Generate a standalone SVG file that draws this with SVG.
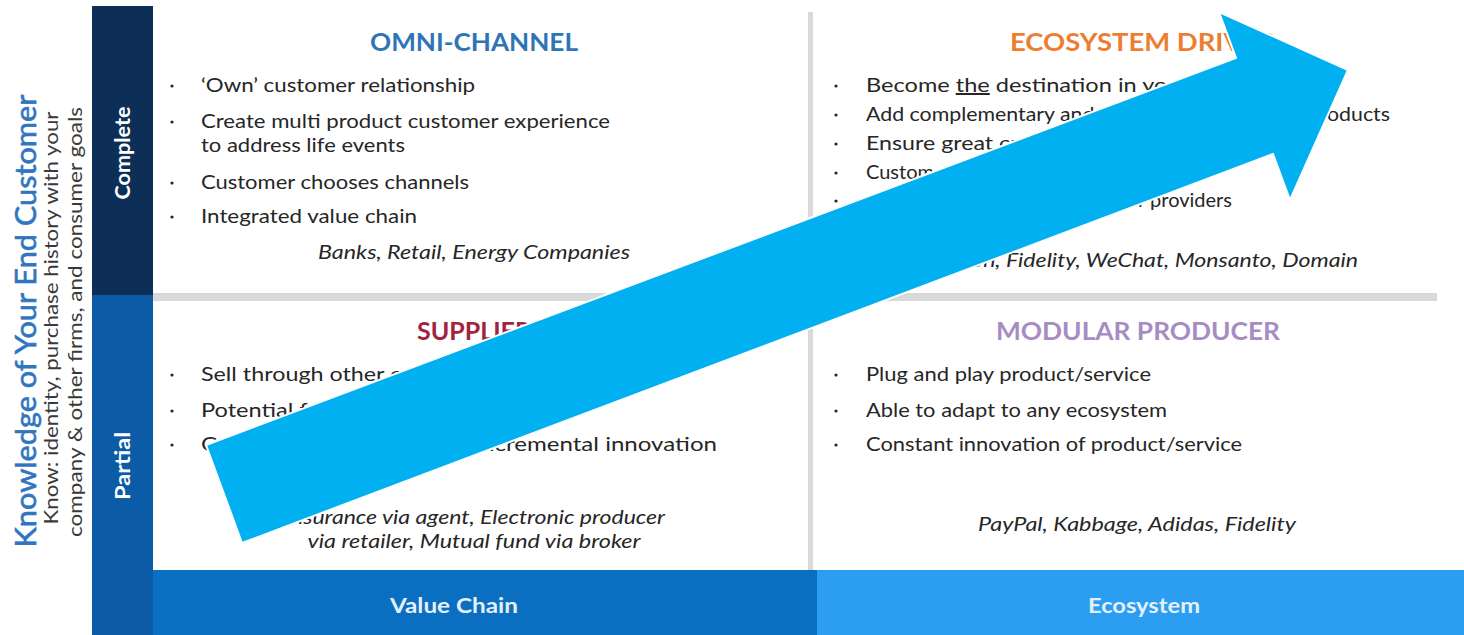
<svg xmlns="http://www.w3.org/2000/svg" width="1464" height="635" viewBox="0 0 1464 635">
  <style>
    text { font-family: Lato, "Open Sans", "Liberation Sans", sans-serif; }
    .body { font-size: 20px; fill: #262626; }
    .ex { font-size: 20px; fill: #262626; font-style: italic; }
    .title { font-size: 25px; font-weight: bold; text-anchor: middle; }
    .axis { font-size: 20px; font-weight: bold; fill: #ffffff; text-anchor: middle; }
    .foot { font-size: 20px; font-weight: bold; fill: #e4f0fb; text-anchor: middle; }
    .dot { fill: #262626; }
    .rule { fill: #d9d9d9; }
  </style>
  <defs>
    <circle id="bullet" r="1.6" class="dot"/>
  </defs>

  <rect width="1464" height="635" fill="#ffffff"/>

  <!-- vertical axis caption -->
  <g id="y-axis-caption">
    <text transform="translate(36,321) rotate(-90)" text-anchor="middle" font-size="28" fill="#2f75c0" stroke="#2f75c0" stroke-width="0.6" textLength="453" lengthAdjust="spacingAndGlyphs">Knowledge of Your End Customer</text>
    <text transform="translate(58,318) rotate(-90)" text-anchor="middle" font-size="19" fill="#3a3a3a" textLength="413" lengthAdjust="spacingAndGlyphs">Know: identity, purchase history with your</text>
    <text transform="translate(82,322) rotate(-90)" text-anchor="middle" font-size="19" fill="#3a3a3a" textLength="430" lengthAdjust="spacingAndGlyphs">company &amp; other firms, and consumer goals</text>
  </g>

  <!-- row labels -->
  <g id="row-complete">
    <rect x="92" y="6" width="61" height="289" fill="#0d2f57"/>
    <text class="axis" transform="translate(130,153) rotate(-90)" textLength="93" lengthAdjust="spacingAndGlyphs">Complete</text>
  </g>
  <g id="row-partial">
    <rect x="92" y="295" width="61" height="340" fill="#0b5ba6"/>
    <text class="axis" transform="translate(130,466) rotate(-90)" textLength="68" lengthAdjust="spacingAndGlyphs">Partial</text>
  </g>

  <!-- column labels -->
  <g id="col-value-chain">
    <rect x="153" y="570" width="664" height="65" fill="#0b6fc1"/>
    <text class="foot" x="454" y="613" textLength="128" lengthAdjust="spacingAndGlyphs">Value Chain</text>
  </g>
  <g id="col-ecosystem">
    <rect x="817" y="570" width="647" height="65" fill="#2b9ef2"/>
    <text class="foot" x="1144" y="613" textLength="112" lengthAdjust="spacingAndGlyphs">Ecosystem</text>
  </g>

  <!-- quadrant dividers -->
  <g id="dividers">
    <rect class="rule" x="808" y="12" width="5" height="558"/>
    <rect class="rule" x="153" y="293" width="1284" height="8"/>
  </g>

  <!-- top-left quadrant -->
  <g id="omni-channel">
    <text class="title" x="474" y="51" fill="#2e75b6" textLength="208" lengthAdjust="spacingAndGlyphs">OMNI-CHANNEL</text>
    <use href="#bullet" x="172" y="86"/>
    <text class="body" x="201" y="92" textLength="274" lengthAdjust="spacingAndGlyphs">‘Own’ customer relationship</text>
    <use href="#bullet" x="172" y="122"/>
    <text class="body" x="201" y="128" textLength="409" lengthAdjust="spacingAndGlyphs">Create multi product customer experience</text>
    <text class="body" x="201" y="152" textLength="204" lengthAdjust="spacingAndGlyphs">to address life events</text>
    <use href="#bullet" x="172" y="183"/>
    <text class="body" x="201" y="189" textLength="268" lengthAdjust="spacingAndGlyphs">Customer chooses channels</text>
    <use href="#bullet" x="172" y="217"/>
    <text class="body" x="201" y="223" textLength="216" lengthAdjust="spacingAndGlyphs">Integrated value chain</text>
    <text class="ex" x="474" y="259" text-anchor="middle" textLength="312" lengthAdjust="spacingAndGlyphs">Banks, Retail, Energy Companies</text>
  </g>

  <!-- top-right quadrant -->
  <g id="ecosystem-driver">
    <text class="title" x="1010" y="51" fill="#ed7d31" style="text-anchor:start" textLength="266" lengthAdjust="spacingAndGlyphs">ECOSYSTEM DRIVER</text>
    <use href="#bullet" x="836" y="86"/>
    <text class="body" x="866" y="92" textLength="405" lengthAdjust="spacingAndGlyphs">Become <tspan text-decoration="underline">the</tspan> destination in your domain</text>
    <use href="#bullet" x="836" y="115"/>
    <text class="body" x="866" y="121" textLength="524" lengthAdjust="spacingAndGlyphs">Add complementary and competing third party products</text>
    <use href="#bullet" x="836" y="144"/>
    <text class="body" x="866" y="150" textLength="345" lengthAdjust="spacingAndGlyphs">Ensure great customer experience</text>
    <use href="#bullet" x="836" y="173"/>
    <text class="body" x="866" y="179">Customer data and analytics</text>
    <use href="#bullet" x="836" y="201"/>
    <text class="body" x="1232" y="207" text-anchor="end">Collect rents from other providers</text>
    <text class="ex" x="1358" y="267" text-anchor="end" textLength="441" lengthAdjust="spacingAndGlyphs">Amazon, Fidelity, WeChat, Monsanto, Domain</text>
  </g>

  <!-- bottom-left quadrant -->
  <g id="supplier">
    <text class="title" x="474" y="340" fill="#a0243e">SUPPLIER</text>
    <use href="#bullet" x="172" y="375"/>
    <text class="body" x="201" y="381" textLength="298" lengthAdjust="spacingAndGlyphs">Sell through other companies</text>
    <use href="#bullet" x="172" y="411"/>
    <text class="body" x="201" y="417" textLength="272" lengthAdjust="spacingAndGlyphs">Potential for loss of power</text>
    <use href="#bullet" x="172" y="445"/>
    <text class="body" x="201" y="451" textLength="516" lengthAdjust="spacingAndGlyphs">Cost-focused production, incremental innovation</text>
    <text class="ex" x="665" y="524" text-anchor="end" textLength="380" lengthAdjust="spacingAndGlyphs">Insurance via agent, Electronic producer</text>
    <text class="ex" x="474" y="548" text-anchor="middle" textLength="333" lengthAdjust="spacingAndGlyphs">via retailer, Mutual fund via broker</text>
  </g>

  <!-- bottom-right quadrant -->
  <g id="modular-producer">
    <text class="title" x="1138" y="340" fill="#a68cc2" textLength="284" lengthAdjust="spacingAndGlyphs">MODULAR PRODUCER</text>
    <use href="#bullet" x="836" y="375"/>
    <text class="body" x="866" y="381" textLength="285" lengthAdjust="spacingAndGlyphs">Plug and play product/service</text>
    <use href="#bullet" x="836" y="411"/>
    <text class="body" x="866" y="417" textLength="301" lengthAdjust="spacingAndGlyphs">Able to adapt to any ecosystem</text>
    <use href="#bullet" x="836" y="445"/>
    <text class="body" x="866" y="451" textLength="376" lengthAdjust="spacingAndGlyphs">Constant innovation of product/service</text>
    <text class="ex" x="1137" y="531" text-anchor="middle" textLength="318" lengthAdjust="spacingAndGlyphs">PayPal, Kabbage, Adidas, Fidelity</text>
  </g>

  <!-- trend arrow from value chain toward ecosystem -->
  <g id="connectors">
    <polygon points="206,445 1236,58 1219,12 1348,70 1290,200 1273,154 242,543" fill="#00b0f0" stroke="#ffffff" stroke-width="2" stroke-linejoin="miter"/>
  </g>
</svg>
